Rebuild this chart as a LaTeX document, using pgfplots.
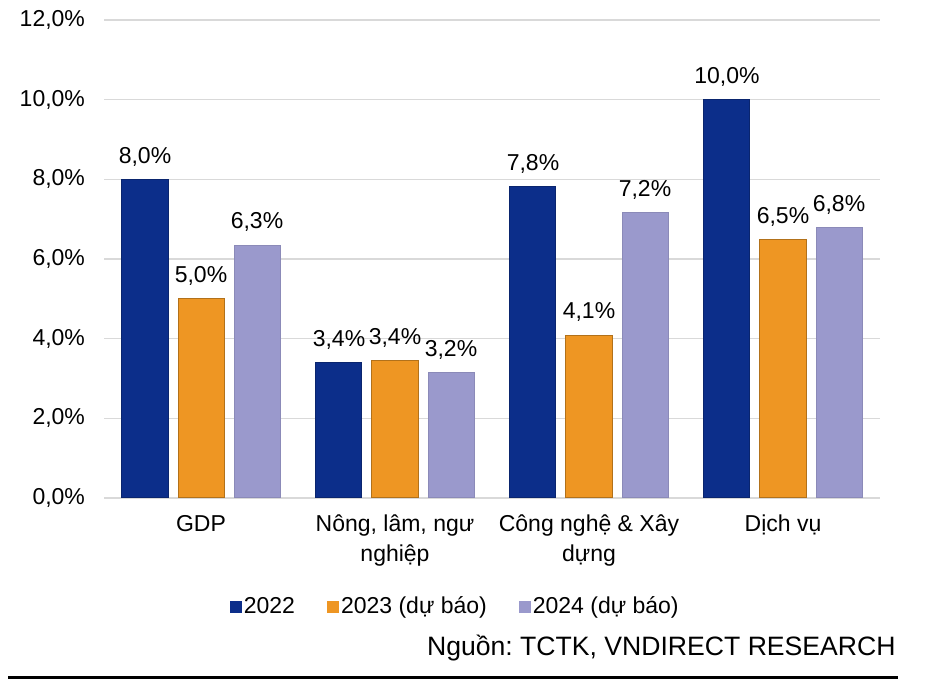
\documentclass[border=0pt]{standalone}
\usepackage{fontspec}
\setmainfont{Liberation Sans}
\usepackage{pgfplots}
\usepackage{pgfplotstable}
\pgfplotsset{compat=1.18}
\frenchspacing

\definecolor{c22}{HTML}{0C2E8A}
\definecolor{c23}{HTML}{EE9623}
\definecolor{c24}{HTML}{9A99CC}
\definecolor{gridc}{HTML}{D9D9D9}

\newcommand\cf{\fontsize{11.5}{15}\selectfont}

% growth by sector, % (bar heights, labels as printed)
\pgfplotstableread{
x y lbl
0 8.00 8,0
1 3.39 3,4
2 7.81 7,8
3 10.00 10,0
}\tblA
\pgfplotstableread{
x y lbl
0 5.00 5,0
1 3.45 3,4
2 4.09 4,1
3 6.48 6,5
}\tblB
\pgfplotstableread{
x y lbl
0 6.35 6,3
1 3.16 3,2
2 7.16 7,2
3 6.78 6,8
}\tblC

\begin{document}
\begin{tikzpicture}
\path[use as bounding box] (0,0) rectangle (463pt,-347pt);
\begin{axis}[
    at={(52pt,-249pt)}, anchor=south west,
    scale only axis,
    width=388pt, height=239pt,
    xmin=-0.5, xmax=3.5,
    ymin=0, ymax=12,
    ytick={0,2,...,12},
    xtick={0,1,2,3},
    xticklabels={GDP,{Nông, lâm, ngư\\nghiệp},{Công nghệ \& Xây\\dựng},Dịch vụ},
    xticklabel style={align=center, font=\cf, yshift=-5pt},
    yticklabel={\pgfmathprintnumber[fixed,fixed zerofill,precision=1,use comma]{\tick}\%},
    yticklabel style={font=\cf, xshift=-6pt},
    /pgf/number format/assume math mode=true,
    axis line style={draw=none},
    major tick length=0pt,
    ymajorgrids,
    grid style={draw=gridc, line width=0.8pt},
    ybar=5pt, bar width=23pt,
    point meta=explicit symbolic,
    nodes near coords={\pgfplotspointmeta\%},
    every node near coord/.append style={font=\cf, yshift=3pt, text=black},
    legend columns=3,
    legend style={draw=none, at={(0.454,-0.228)}, anchor=center, font=\cf,
        /tikz/every even column/.append style={column sep=14pt},
        /tikz/every odd column/.append style={column sep=-1pt}},
    legend image code/.code={\path[#1,draw=none] (0pt,-3pt) rectangle (6pt,3pt);},
]
\addplot[fill=c22, draw=c22!80!black, line width=0.5pt] table[x=x,y=y,meta=lbl] {\tblA};
\addplot[fill=c23, draw=c23!75!black, line width=0.5pt] table[x=x,y=y,meta=lbl] {\tblB};
\addplot[fill=c24, draw=c24!90!black, line width=0.5pt] table[x=x,y=y,meta=lbl] {\tblC};
\legend{2022, 2023 (dự báo), 2024 (dự báo)}
\end{axis}
\node[anchor=base east, inner sep=0pt, font=\fontsize{13.3}{16}\selectfont] at (448pt,-327.5pt) {Nguồn: TCTK, VNDIRECT RESEARCH};
\draw[line width=1.5pt] (4pt,-338.5pt) -- (449pt,-338.5pt);
\end{tikzpicture}
\end{document}
